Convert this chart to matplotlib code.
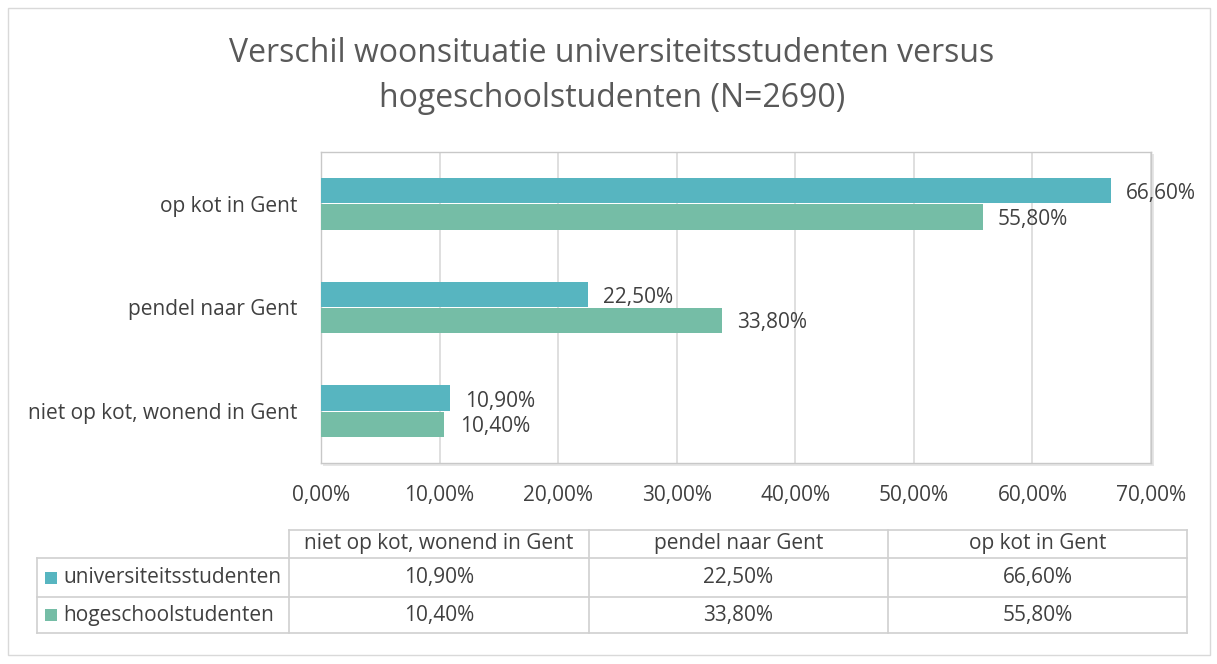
import matplotlib.pyplot as plt
import numpy as np
from matplotlib.patches import Rectangle

categories = ["niet op kot, wonend in Gent", "pendel naar Gent", "op kot in Gent"]
series = ["universiteitsstudenten", "hogeschoolstudenten"]
universiteit = [10.9, 22.5, 66.6]
hogeschool = [10.4, 33.8, 55.8]
xticks = [0, 10, 20, 30, 40, 50, 60, 70]
title = "Verschil woonsituatie universiteitsstudenten versus\nhogeschoolstudenten (N=2690)"

colors = ["#57B5C0", "#75BDA6"]
text_col = "#404040"
grid_col = "#D9D9D9"
fs = 15

W, H = 1217, 664
plt.rcParams['font.family'] = ['Open Sans', 'DejaVu Sans']

fig = plt.figure(figsize=(W / 100, H / 100), dpi=100)


def fx(px):
    return px / W


def fy(py):
    return 1 - py / H


def pct(v):
    return f"{v:.2f}%".replace(".", ",")


# outer chart frame
fig.patches.append(Rectangle((fx(8), fy(655)), fx(1202), 647 / H, transform=fig.transFigure,
                             fill=False, edgecolor="#D9D9D9", linewidth=1, zorder=-5))

fig.text(fx(612), fy(76), title, ha="center", va="center", fontsize=23,
         color="#595959", linespacing=1.5)

# plot area shadow
fig.patches.append(Rectangle((fx(323), fy(466)), fx(831), 312 / H, transform=fig.transFigure,
                             facecolor="#E6E6E6", edgecolor="none", zorder=-5))

ax = fig.add_axes([fx(321), fy(463), fx(830), 311 / H])
ax.set_facecolor("white")
y = np.arange(len(categories))
h = 0.245
ax.barh(y + h / 2 + 0.005, universiteit, height=h, color=colors[0], zorder=3)
ax.barh(y - h / 2 - 0.005, hogeschool, height=h, color=colors[1], zorder=3)
for yi, u, g in zip(y, universiteit, hogeschool):
    ax.annotate(pct(u), (u, yi + h / 2), xytext=(11, -2), textcoords="offset points",
                ha="left", va="center", fontsize=fs, color=text_col)
    ax.annotate(pct(g), (g, yi - h / 2), xytext=(11, -2), textcoords="offset points",
                ha="left", va="center", fontsize=fs, color=text_col)

ax.set_xlim(0, 70)
ax.set_ylim(-0.5, len(categories) - 0.5)
ax.set_xticks(xticks)
ax.set_xticklabels([pct(t) for t in xticks], fontsize=fs, color=text_col)
ax.set_yticks(y)
ax.set_yticklabels(categories, fontsize=fs, color=text_col)
ax.tick_params(axis="both", length=0)
ax.tick_params(axis="x", pad=16)
ax.tick_params(axis="y", pad=17)
ax.grid(axis="x", color=grid_col, linewidth=1.2, zorder=0)
for s in ax.spines.values():
    s.set_color("#C8C8C8")
    s.set_linewidth(1)

# data table below chart
col_edges = [289, 589, 888, 1187]
row_edges = [530, 558, 597, 633]
line_kw = dict(color="#D0D0D0", linewidth=1.2, transform=fig.transFigure)
fig.add_artist(plt.Line2D([fx(289), fx(1187)], [fy(530), fy(530)], **line_kw))
for r in row_edges[1:]:
    fig.add_artist(plt.Line2D([fx(37), fx(1187)], [fy(r), fy(r)], **line_kw))
fig.add_artist(plt.Line2D([fx(37), fx(37)], [fy(558), fy(633)], **line_kw))
for c in col_edges:
    fig.add_artist(plt.Line2D([fx(c), fx(c)], [fy(530), fy(633)], **line_kw))

for i, cat in enumerate(categories):
    cx = (col_edges[i] + col_edges[i + 1]) / 2
    fig.text(fx(cx), fy(544), cat, ha="center", va="center", fontsize=fs, color=text_col)
    for j, vals in enumerate([universiteit, hogeschool]):
        cy = (row_edges[j + 1] + row_edges[j + 2]) / 2
        fig.text(fx(cx), fy(cy), pct(vals[i]), ha="center", va="center",
                 fontsize=fs, color=text_col)

for j, name in enumerate(series):
    cy = (row_edges[j + 1] + row_edges[j + 2]) / 2
    fig.patches.append(Rectangle((fx(45), fy(cy + 6)), fx(12), 12 / H, transform=fig.transFigure,
                                 facecolor=colors[j], edgecolor="none"))
    fig.text(fx(63), fy(cy), name, ha="left", va="center", fontsize=fs, color=text_col)

fig.savefig("out.png", dpi=100)
